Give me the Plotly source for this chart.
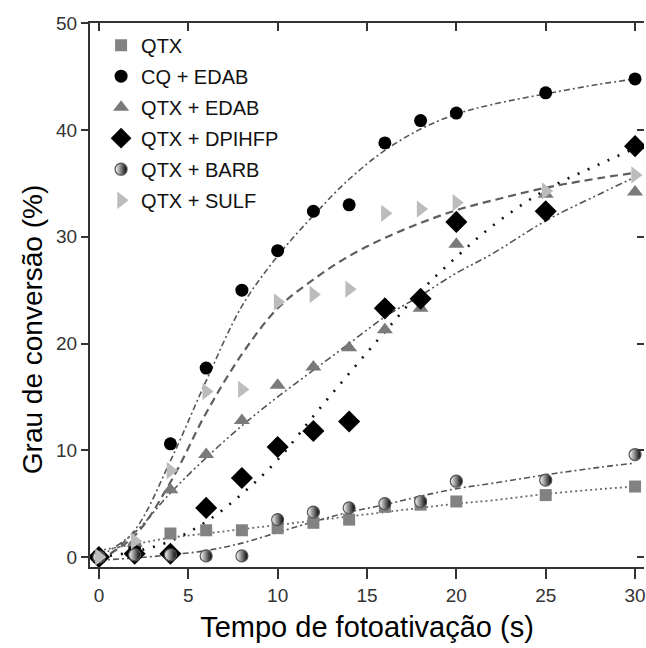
import plotly.graph_objects as go

# ---- data ----
time_s = [0, 2, 4, 6, 8, 10, 12, 14, 16, 18, 20, 25, 30]

qtx = [0, 0.8, 2.2, 2.5, 2.5, 2.7, 3.2, 3.5, 4.7, 4.9, 5.2, 5.8, 6.6]
cq_edab = [0, 1.0, 10.6, 17.7, 25.0, 28.7, 32.4, 33.0, 38.8, 40.9, 41.6, 43.5, 44.8]
qtx_edab = [0, 1.3, 6.3, 9.6, 12.8, 16.1, 17.8, 19.6, 21.3, 23.3, 29.3, 34.0, 34.2]
qtx_dpihfp = [0, 0.3, 0.3, 4.6, 7.4, 10.3, 11.8, 12.7, 23.3, 24.2, 31.4, 32.4, 38.5]
qtx_barb = [0, 0.2, 0.2, 0.1, 0.1, 3.5, 4.2, 4.6, 5.0, 5.2, 7.1, 7.2, 9.6]
qtx_sulf = [0, 1.5, 8.1, 15.5, 15.7, 23.9, 24.6, 25.1, 32.2, 32.6, 33.2, 34.3, 35.8]

# fitted trend curves
fit_x = [0, 2, 4, 6, 8, 10, 12, 14, 16, 18, 20, 22, 25, 28, 30]
fit_qtx = [0.6, 1.2, 1.8, 2.2, 2.6, 3.0, 3.4, 3.8, 4.2, 4.6, 5.0, 5.3, 5.9, 6.35, 6.6]
fit_cq_edab = [-0.5, 2.5, 9.0, 16.5, 23.5, 28.2, 32.0, 35.4, 38.1, 40.1, 41.5, 42.4, 43.4, 44.3, 44.8]
fit_qtx_edab = [0, 2.3, 6.0, 9.3, 12.3, 15.0, 17.5, 20.0, 22.5, 24.5, 26.6, 28.4, 31.5, 34.0, 35.6]
fit_qtx_dpihfp = [0, 0.5, 1.5, 3.3, 5.9, 9.1, 13.2, 17.2, 21.1, 24.9, 28.1, 31.0, 34.4, 36.8, 38.3]
fit_qtx_barb = [-0.3, -0.1, 0.2, 0.6, 1.3, 2.3, 3.3, 4.2, 4.9, 5.7, 6.4, 6.9, 7.7, 8.4, 8.8]
fit_qtx_sulf = [-0.3, 2.0, 7.0, 13.5, 19.0, 23.3, 26.0, 28.2, 29.9, 31.3, 32.5, 33.4, 34.6, 35.5, 36.0]

names = ["QTX", "CQ + EDAB", "QTX + EDAB", "QTX + DPIHFP", "QTX + BARB", "QTX + SULF"]
x_ticks = [0, 5, 10, 15, 20, 25, 30]
y_ticks = [0, 10, 20, 30, 40, 50]
x_title = "Tempo de fotoativação (s)"
y_title = "Grau de conversão (%)"

FONT = "Liberation Sans, Arial, sans-serif"

fig = go.Figure()

# trend lines (drawn first, under the markers)
line_specs = [
    (fit_qtx, dict(color="#6e6e6e", width=1.8, dash="2px,3px")),
    (fit_cq_edab, dict(color="#555555", width=1.6, dash="6px,3px,2px,3px")),
    (fit_qtx_edab, dict(color="#555555", width=1.6, dash="7px,3px,2px,3px,2px,3px")),
    (fit_qtx_dpihfp, dict(color="#111111", width=2.6, dash="2px,9px")),
    (fit_qtx_barb, dict(color="#555555", width=1.6, dash="6px,3px,2px,3px")),
    (fit_qtx_sulf, dict(color="#5e5e5e", width=2.2, dash="8px,5px")),
]
for ys, ln in line_specs:
    fig.add_trace(go.Scatter(x=fit_x, y=ys, mode="lines", line=dict(shape="spline", **ln),
                             showlegend=False, hoverinfo="skip"))

# markers
marker_specs = [
    (qtx, dict(symbol="square", size=12, color="#828282")),
    (cq_edab, dict(symbol="circle", size=13, color="#000000")),
    (qtx_edab, dict(symbol="triangle-up", size=14, color="#7a7a7a")),
    (qtx_dpihfp, dict(symbol="diamond", size=17, color="#000000")),
    (qtx_barb, dict(symbol="circle", size=12, color="#ffffff",
                    gradient=dict(type="horizontal", color="#000000"),
                    line=dict(color="#555555", width=1.2))),
    (qtx_sulf, dict(symbol="triangle-right", size=15, color="#bcbcbc")),
]
for i, (ys, mk) in enumerate(marker_specs):
    fig.add_trace(go.Scatter(x=time_s, y=ys, mode="markers", name=names[i], marker=mk,
                             legendgroup=f"g{i}"))

# dummy trace for mirrored inward ticks on top / right
fig.add_trace(go.Scatter(x=[None], y=[None], xaxis="x2", yaxis="y2", showlegend=False,
                         hoverinfo="skip"))

axis_common = dict(showgrid=False, zeroline=False, linecolor="#333333", linewidth=2,
                   tickcolor="#333333", tickwidth=2)

fig.update_layout(
    width=646, height=648,
    margin=dict(l=90, r=0, t=23, b=81),
    plot_bgcolor="white", paper_bgcolor="white",
    font=dict(family=FONT, color="#222222"),
    xaxis=dict(range=[-0.5, 30.5], tickvals=x_ticks, ticks="outside", ticklen=10,
               showline=True, tickfont=dict(size=19, color="#333333"),
               ticklabeloverflow="allow",
               title=dict(text=x_title, font=dict(size=29, color="#000000"), standoff=12),
               **axis_common),
    yaxis=dict(range=[-0.94, 50.04], tickvals=y_ticks, ticks="outside", ticklen=7,
               showline=True, tickfont=dict(size=19, color="#333333"),
               ticklabeloverflow="allow",
               **axis_common),
    xaxis2=dict(range=[-0.5, 30.5], overlaying="x", side="top", tickvals=x_ticks,
                ticks="inside", ticklen=8, showticklabels=False, showline=True,
                **axis_common),
    yaxis2=dict(range=[-0.94, 50.04], overlaying="y", side="right", tickvals=y_ticks,
                ticks="inside", ticklen=7, showticklabels=False, showline=False,
                **axis_common),
    legend=dict(x=0.02, y=0.995, xanchor="left", yanchor="top", bgcolor="rgba(0,0,0,0)",
                font=dict(size=20, color="#111111"), tracegroupgap=2, itemwidth=30),
    annotations=[dict(text=y_title, xref="paper", yref="paper", x=-0.1025, y=0.4357,
                      xanchor="center", yanchor="middle", textangle=-90, showarrow=False,
                      font=dict(size=28, color="#000000"))],
)

fig.write_html("out.html")
